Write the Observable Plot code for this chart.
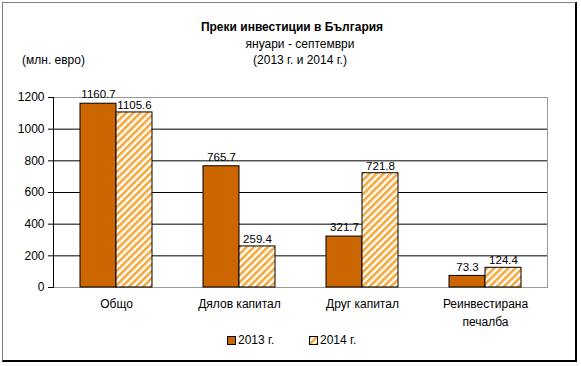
<!DOCTYPE html>
<html>
<head>
<meta charset="utf-8">
<script src="https://cdn.jsdelivr.net/npm/d3@7"></script>
<script src="https://cdn.jsdelivr.net/npm/@observablehq/plot@0.6"></script>
<style>
  body { margin: 0; background: #fff; font-family: "Liberation Sans", Arial, sans-serif; color: #000; }
  #wrap { position: relative; width: 581px; height: 366px; overflow: hidden; background: #fff; }
  #border { position: absolute; left: 2px; top: 2px; width: 572px; height: 357px;
            border-left: 1px solid #808080; border-top: 1px solid #808080;
            border-right: 2px solid #000; border-bottom: 2px solid #000; }
  #chart { position: absolute; left: 0; top: 0; }
  .t { position: absolute; font-size: 12px; line-height: 14px; white-space: nowrap; }
  #title { font-weight: bold; left: 192px; width: 200px; text-align: center; top: 20px; }
  #sub1 { left: 200px; width: 200px; text-align: center; top: 37px; }
  #sub2 { left: 200px; width: 200px; text-align: center; top: 53px; }
  #unit { left: 22px; top: 53px; }
  .leg { position: absolute; top: 333px; font-size: 12px; line-height: 14px; white-space: nowrap; }
  .leg svg { vertical-align: -1px; margin-right: 2px; }
</style>
</head>
<body>
<div id="wrap">
  <div id="border"></div>
  <div id="chart"></div>
  <div class="t" id="title"></div>
  <div class="t" id="sub1"></div>
  <div class="t" id="sub2"></div>
  <div class="t" id="unit"></div>
  <div class="leg" id="leg1" style="left:227px"></div>
  <div class="leg" id="leg2" style="left:309px"></div>
</div>
<script>
const titleText = "Преки инвестиции в България";
const subtitle1 = "януари - септември";
const subtitle2 = "(2013 г. и 2014 г.)";
const unitText = "(млн. евро)";
const categories = ["Общо", "Дялов капитал", "Друг капитал", "Реинвестирана печалба"];
const values2013 = [1160.7, 765.7, 321.7, 73.3];
const values2014 = [1105.6, 259.4, 721.8, 124.4];
const seriesLabels = ["2013 г.", "2014 г."];
const yTicks = [0, 200, 400, 600, 800, 1000, 1200];

const color2013 = "#cc6600";
const stripe2014 = "#f5a73a";

document.getElementById("title").textContent = titleText;
document.getElementById("sub1").textContent = subtitle1;
document.getElementById("sub2").textContent = subtitle2;
document.getElementById("unit").textContent = unitText;

const rows2013 = categories.map((c, i) => ({category: c, value: values2013[i]}));
const rows2014 = categories.map((c, i) => ({category: c, value: values2014[i]}));
const fmt = d3.format(".1f");
const wrap = d => d.length > 15 ? d.replace(" ", "\n") : d;

const chart = Plot.plot({
  width: 581,
  height: 330,
  marginLeft: 53,
  marginRight: 34,
  marginTop: 97,
  marginBottom: 43,
  style: {fontFamily: '"Liberation Sans", Arial, sans-serif', fontSize: "12px", color: "#000", background: "transparent", overflow: "visible"},
  x: {domain: categories, paddingInner: 0.708, paddingOuter: 0.354, label: null},
  y: {domain: [0, 1200], label: null},
  marks: [
    Plot.ruleY(yTicks.filter(d => d > 0 && d < 1200), {stroke: "#000", strokeWidth: 1}),
    Plot.frame({stroke: "#9a9a9a"}),
    Plot.barY(rows2013, {x: "category", y: "value", fill: color2013, stroke: "#000", strokeWidth: 1, dx: -18}),
    Plot.barY(rows2014, {x: "category", y: "value", fill: "url(#hatch)", stroke: "#000", strokeWidth: 1, dx: 18}),
    Plot.text(rows2013, {x: "category", y: "value", text: d => fmt(d.value), dx: -18, dy: -9, fontSize: 11.5, fill: "#000"}),
    Plot.text(rows2014, {x: "category", y: "value", text: d => fmt(d.value), dx: 18, dy: -7, fontSize: 11.5, fill: "#000"}),
    Plot.axisY(yTicks, {tickSize: 5, tickPadding: 4, fontSize: 12, label: null, stroke: "#000", tickFormat: d3.format("d")}),
    Plot.axisX({tickSize: 0, tickPadding: 8, fontSize: 12, label: null, tickFormat: wrap, lineHeight: 1.5}),
    Plot.frame({anchor: "left", stroke: "#000"})
  ]
});

const defs = d3.select(chart).insert("defs", ":first-child");
const pat = defs.append("pattern").attr("id", "hatch")
  .attr("patternUnits", "userSpaceOnUse").attr("width", 5).attr("height", 5)
  .attr("patternTransform", "rotate(45)");
pat.append("rect").attr("width", 5).attr("height", 5).attr("fill", "#fff");
pat.append("rect").attr("width", 2.6).attr("height", 5).attr("fill", stripe2014);

document.getElementById("chart").appendChild(chart);

function legendItem(id, fill, label) {
  const el = document.getElementById(id);
  el.innerHTML = `<svg width="9" height="9"><rect x="0.5" y="0.5" width="8" height="8" fill="${fill}" stroke="#000"/></svg>`;
  el.appendChild(document.createTextNode(label));
}
legendItem("leg1", color2013, seriesLabels[0]);
legendItem("leg2", "url(#hatch)", seriesLabels[1]);
</script>
</body>
</html>
